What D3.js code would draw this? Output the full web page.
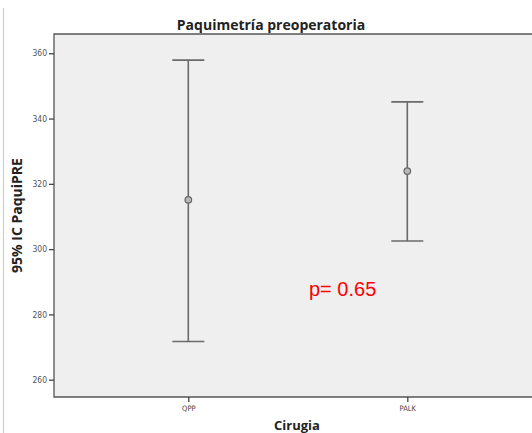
<!DOCTYPE html>
<html>
<head>
<meta charset="utf-8">
<script src="https://cdn.jsdelivr.net/npm/d3@7"></script>
<style>
  html, body { margin: 0; padding: 0; background: #fff; }
  svg { display: block; }
</style>
</head>
<body>
<svg id="chart" width="532" height="433"></svg>
<script>
// Surgery groups and their 95% confidence intervals for preoperative pachymetry
const categories = ["QPP", "PALK"];
const means = [315.1, 323.9];
const lower = [271.7, 302.5];
const upper = [357.9, 345.1];
const yTicks = [260, 280, 300, 320, 340, 360];
const pLabel = "p= 0.65";

const svg = d3.select("#chart");
const W = 532, H = 433;
const plot = { left: 54, top: 34, right: 580, bottom: 397 };

// outer frame line on the left edge
svg.append("line")
  .attr("x1", 3.5).attr("x2", 3.5).attr("y1", 8).attr("y2", H)
  .attr("stroke", "#c8c8c8").attr("stroke-width", 1);

const y = d3.scaleLinear().domain([254.7, 365.9]).range([plot.bottom, plot.top]);
const x = d3.scalePoint().domain(categories).range([188.3, 407.3]);

// plot background
svg.append("rect")
  .attr("x", plot.left).attr("y", plot.top)
  .attr("width", plot.right - plot.left).attr("height", plot.bottom - plot.top)
  .attr("fill", "#efefef");

// frame lines: top, left, bottom
svg.append("path")
  .attr("d", `M${W + 5},${plot.top}H${plot.left}V${plot.bottom}H${W + 5}`)
  .attr("fill", "none").attr("stroke", "#555").attr("stroke-width", 1.3);

// y axis
const yAxis = svg.append("g")
  .attr("transform", `translate(${plot.left},0)`)
  .call(d3.axisLeft(y).tickValues(yTicks).tickSize(5).tickPadding(2).tickSizeOuter(0));
yAxis.select(".domain").remove();
yAxis.selectAll(".tick line").attr("stroke", "#444").attr("stroke-width", 1.3);
yAxis.selectAll(".tick text")
  .attr("fill", "#555").attr("font-family", "'DejaVu Sans Condensed', 'DejaVu Sans', sans-serif")
  .attr("font-size", 8.5);

// x axis
const xAxis = svg.append("g")
  .attr("transform", `translate(0,${plot.bottom})`)
  .call(d3.axisBottom(x).tickSize(5).tickPadding(4).tickSizeOuter(0));
xAxis.select(".domain").remove();
xAxis.selectAll(".tick line").attr("stroke", "#444").attr("stroke-width", 1.3);
xAxis.selectAll(".tick text")
  .attr("fill", "#444").attr("font-family", "'DejaVu Sans Condensed', 'DejaVu Sans', sans-serif")
  .attr("font-size", 7.5);

// error bars
const capHalf = 16;
const g = svg.append("g");
categories.forEach((c, i) => {
  const cx = x(c);
  g.append("line")
    .attr("x1", cx).attr("x2", cx).attr("y1", y(upper[i])).attr("y2", y(lower[i]))
    .attr("stroke", "#6a6a6a").attr("stroke-width", 1.6);
  [upper[i], lower[i]].forEach(v => {
    g.append("line")
      .attr("x1", cx - capHalf).attr("x2", cx + capHalf).attr("y1", y(v)).attr("y2", y(v))
      .attr("stroke", "#6a6a6a").attr("stroke-width", 1.6);
  });
  g.append("circle")
    .attr("cx", cx).attr("cy", y(means[i])).attr("r", 3.3)
    .attr("fill", "#b8b8b8").attr("stroke", "#666").attr("stroke-width", 1.2);
});

// p-value annotation
svg.append("text")
  .attr("x", 309).attr("y", 296)
  .attr("fill", "#ff0000")
  .attr("font-family", "Arial, 'Liberation Sans', sans-serif")
  .attr("font-size", 20)
  .text(pLabel);

// title
svg.append("text")
  .attr("x", 271).attr("y", 30)
  .attr("text-anchor", "middle")
  .attr("font-family", "'Open Sans', sans-serif").attr("font-weight", "bold")
  .attr("font-size", 14).attr("fill", "#222")
  .text("Paquimetría preoperatoria");

// y axis title
svg.append("text")
  .attr("transform", `translate(22,${(plot.top + plot.bottom) / 2}) rotate(-90)`)
  .attr("text-anchor", "middle")
  .attr("font-family", "'Open Sans', sans-serif").attr("font-weight", "bold")
  .attr("font-size", 14).attr("fill", "#222")
  .text("95% IC PaquiPRE");

// x axis title
svg.append("text")
  .attr("x", 297).attr("y", 430)
  .attr("text-anchor", "middle")
  .attr("font-family", "'Open Sans', sans-serif").attr("font-weight", "bold")
  .attr("font-size", 13).attr("fill", "#222")
  .text("Cirugia");
</script>
</body>
</html>
